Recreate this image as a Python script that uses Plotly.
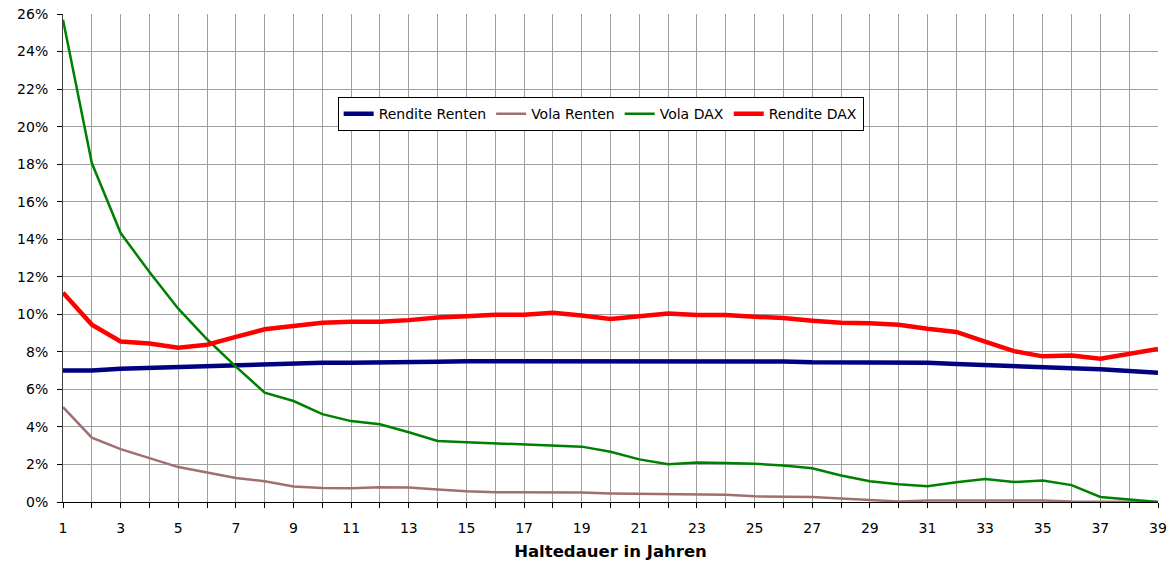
import plotly.graph_objects as go

# Haltedauer 1..39 Jahre, Werte in Prozent
jahre = list(range(1, 40))

rendite_renten = [7.0, 7.0, 7.1, 7.15, 7.2, 7.25, 7.3, 7.35, 7.4, 7.42,
                  7.42, 7.42, 7.43, 7.47, 7.5, 7.5, 7.48, 7.47, 7.46, 7.46,
                  7.46, 7.47, 7.48, 7.5, 7.5, 7.48, 7.44, 7.44, 7.42, 7.42,
                  7.42, 7.35, 7.28, 7.23, 7.18, 7.13, 7.07, 6.98, 6.89]

vola_renten = [5.05, 3.43, 2.82, 2.32, 1.86, 1.57, 1.28, 1.1, 0.83, 0.74,
               0.73, 0.78, 0.77, 0.67, 0.57, 0.52, 0.52, 0.5, 0.5, 0.45,
               0.43, 0.43, 0.42, 0.38, 0.3, 0.3, 0.26, 0.18, 0.12, 0.03,
               0.08, 0.08, 0.05, 0.05, 0.08, 0.03, 0.03, 0.02, 0.0]

vola_dax = [25.7, 18.06, 14.33, 12.25, 10.3, 8.67, 7.21, 5.83, 5.38, 4.68,
            4.31, 4.14, 3.72, 3.25, 3.18, 3.13, 3.09, 3.02, 2.95, 2.68,
            2.27, 2.01, 2.11, 2.08, 2.04, 1.94, 1.8, 1.41, 1.1, 0.94,
            0.84, 1.05, 1.23, 1.06, 1.15, 0.9, 0.27, 0.13, 0.0]

rendite_dax = [11.15, 9.45, 8.55, 8.45, 8.22, 8.38, 8.8, 9.2, 9.38, 9.55,
               9.6, 9.6, 9.69, 9.83, 9.9, 9.98, 9.98, 10.08, 9.94, 9.75,
               9.9, 10.04, 9.96, 9.96, 9.87, 9.8, 9.66, 9.55, 9.52, 9.44,
               9.23, 9.06, 8.54, 8.04, 7.76, 7.8, 7.63, 7.92, 8.15]

fig = go.Figure()
fig.add_trace(go.Scatter(x=jahre, y=rendite_renten, name="Rendite Renten", mode="lines",
                         line=dict(color="#000080", width=4.5)))
fig.add_trace(go.Scatter(x=jahre, y=vola_renten, name="Vola Renten", mode="lines",
                         line=dict(color="#a07070", width=2.5)))
fig.add_trace(go.Scatter(x=jahre, y=vola_dax, name="Vola DAX", mode="lines",
                         line=dict(color="#008000", width=2.5)))
fig.add_trace(go.Scatter(x=jahre, y=rendite_dax, name="Rendite DAX", mode="lines",
                         line=dict(color="#ff0000", width=4.5)))

fig.update_layout(
    width=1171, height=561,
    margin=dict(l=63, r=13, t=14, b=59),
    paper_bgcolor="white", plot_bgcolor="white",
    font=dict(family="DejaVu Sans, sans-serif", size=14, color="black"),
    showlegend=True,
    legend=dict(orientation="h", x=0.491, y=0.795, xanchor="center", yanchor="middle",
                bgcolor="white", bordercolor="black", borderwidth=1,
                font=dict(size=14), itemwidth=30, tracegroupgap=0),
)

fig.update_xaxes(
    range=[1, 39], tick0=1, dtick=2, automargin=False,
    showgrid=True, gridcolor="#a0a0a0", gridwidth=1,
    ticks="outside", ticklen=5, tickcolor="black", ticklabelstandoff=8,
    minor=dict(dtick=1, tick0=1, showgrid=True, gridcolor="#a0a0a0", gridwidth=1,
               ticks="outside", ticklen=5, tickcolor="black"),
    showline=True, linecolor="black", linewidth=1,
    zeroline=False,
    title=dict(text="<b>Haltedauer in Jahren</b>", font=dict(size=16.5), standoff=10),
)

fig.update_yaxes(
    range=[0, 26], tick0=0, dtick=2, ticksuffix="%", automargin=False,
    showgrid=True, gridcolor="#a0a0a0", gridwidth=1,
    ticks="outside", ticklen=5, tickcolor="black", ticklabelstandoff=6,
    showline=True, linecolor="#404040", linewidth=1,
    zeroline=False,
)

fig.write_html("out.html", config={"displayModeBar": False},
               post_script="document.body.style.margin = '0';")
